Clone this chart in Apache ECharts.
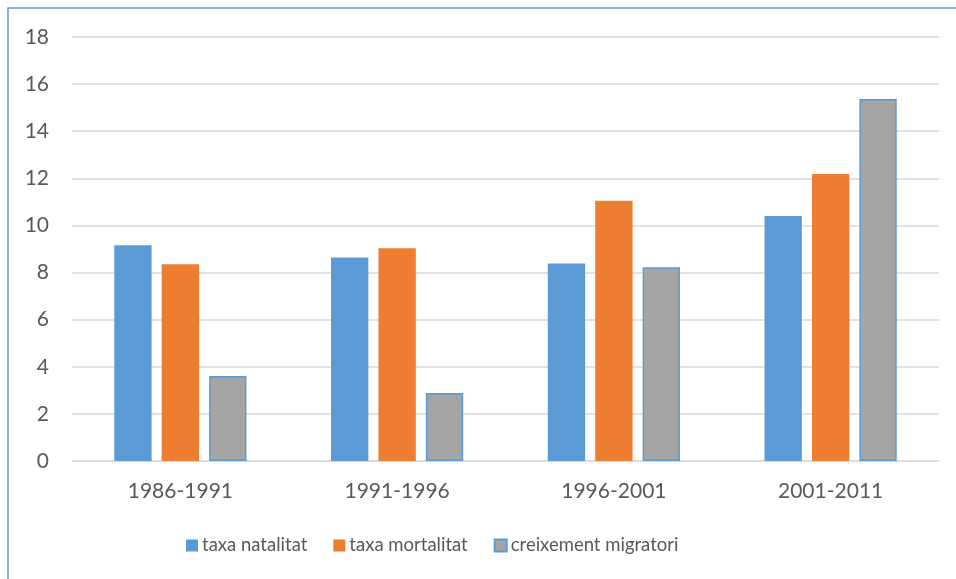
<!DOCTYPE html>
<html>
<head>
<meta charset="utf-8">
<script src="https://cdn.jsdelivr.net/npm/echarts@6/dist/echarts.min.js"></script>
<style>
  html, body { margin: 0; padding: 0; background: #fff; }
  #main { width: 956px; height: 579px; }
</style>
</head>
<body>
<div id="main"></div>
<script>
var periodes = ['1986-1991', '1991-1996', '1996-2001', '2001-2011'];
var natalitat = [9.16, 8.64, 8.38, 10.40];
var mortalitat = [8.35, 9.03, 11.05, 12.18];
var migratori = [3.61, 2.89, 8.22, 15.37];

var myChart = echarts.init(document.getElementById('main'));
var textColor = '#595959';
var font = 'Lato';

var option = {
    backgroundColor: '#fff',
    animation: false,
    graphic: [{
        type: 'rect',
        shape: { x: 8, y: 8, width: 960, height: 600 },
        style: { fill: 'none', stroke: '#5b9bd5', lineWidth: 1.5 },
        silent: true
    }],
    grid: { left: 72, right: 17, top: 37, bottom: 118 },
    legend: {
        bottom: 19,
        left: 181,
        itemWidth: 12,
        itemHeight: 12,
        itemGap: 26,
        textStyle: { color: textColor, fontFamily: font, fontSize: 18.5, padding: [0, 0, 0, -1] },
        data: [
            { name: 'taxa natalitat', icon: 'rect' },
            { name: 'taxa mortalitat', icon: 'rect' },
            { name: 'creixement migratori', icon: 'rect' }
        ]
    },
    xAxis: {
        type: 'category',
        data: periodes,
        axisTick: { show: false },
        axisLine: { lineStyle: { color: '#d9d9d9', width: 1.5 } },
        axisLabel: { color: textColor, fontFamily: font, fontSize: 21, margin: 20 }
    },
    yAxis: {
        type: 'value',
        min: 0,
        max: 18,
        interval: 2,
        axisLabel: { color: textColor, fontFamily: font, fontSize: 21, margin: 23 },
        splitLine: { lineStyle: { color: '#d9d9d9', width: 1.5 } },
        axisLine: { show: false },
        axisTick: { show: false }
    },
    series: [
        {
            name: 'taxa natalitat', type: 'bar', data: natalitat,
            barGap: '27%', barCategoryGap: '39%',
            itemStyle: { color: '#5b9bd5' }
        },
        {
            name: 'taxa mortalitat', type: 'bar', data: mortalitat,
            itemStyle: { color: '#ed7d31' }
        },
        {
            name: 'creixement migratori', type: 'bar', data: migratori,
            itemStyle: { color: '#a5a5a5', borderColor: '#5b9bd5', borderWidth: 1.5 }
        }
    ]
};

myChart.setOption(option);
</script>
</body>
</html>
